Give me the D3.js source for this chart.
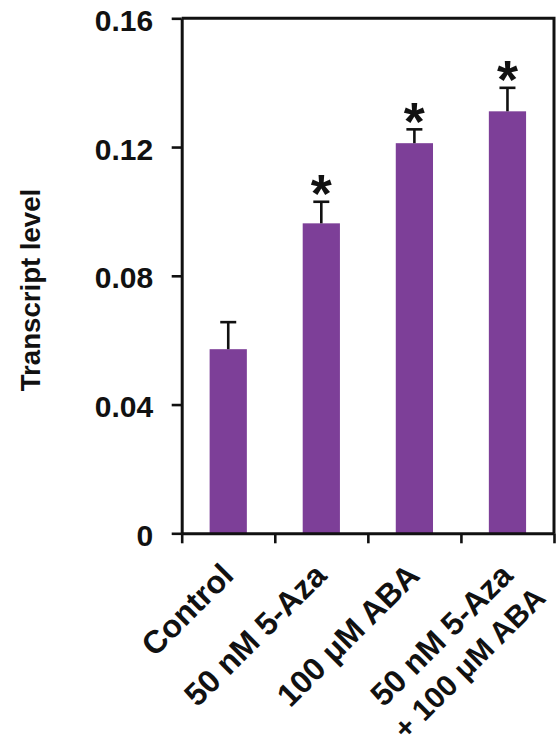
<!DOCTYPE html>
<html>
<head>
<meta charset="utf-8">
<script src="https://cdn.jsdelivr.net/npm/d3@7/dist/d3.min.js"></script>
<style>
  html, body { margin: 0; padding: 0; background: #fff; }
  svg { display: block; }
  text { font-family: "Liberation Sans", Arial, Helvetica, sans-serif; font-weight: bold; fill: #111; }
</style>
</head>
<body>
<svg id="chart" width="560" height="746"></svg>
<script>
// ---- Data ----
const categories = ["Control", "50 nM 5-Aza", "100 μM ABA", "50 nM 5-Aza + 100 μM ABA"];
const labelLines = [["Control"], ["50 nM 5-Aza"], ["100 μM ABA"], ["50 nM 5-Aza", "+ 100 μM ABA"]];
const values = [0.0572, 0.0963, 0.1212, 0.1311];
const errors = [0.0084, 0.0067, 0.0043, 0.0073];
const significant = [false, true, true, true];
const yTicks = [0, 0.04, 0.08, 0.12, 0.16];
const yLabel = "Transcript level";

// ---- Layout ----
const W = 560, H = 746;
const margin = { top: 18.3, right: 6, bottom: 212.7, left: 181.7 };
const innerW = W - margin.left - margin.right;
const innerH = H - margin.top - margin.bottom;
const barColor = "#7d3f98";

const svg = d3.select("#chart");
const g = svg.append("g").attr("transform", `translate(${margin.left},${margin.top})`);

const x = d3.scaleBand().domain(categories).range([0, innerW]).paddingInner(0.6).paddingOuter(0.3);
const xEdges = d3.scaleLinear().domain([0, categories.length]).range([0, innerW]);
const y = d3.scaleLinear().domain([0, 0.16]).range([innerH, 0]);

const rows = categories.map((c, i) => ({ c, v: values[i], e: errors[i], sig: significant[i] }));

// frame (top and right)
g.append("path")
  .attr("d", `M0,${y(0.16)}H${innerW}V${y(0)}`)
  .attr("fill", "none").attr("stroke", "#111").attr("stroke-width", 3);

// bars
g.selectAll("rect.bar").data(rows).join("rect")
  .attr("class", "bar")
  .attr("x", d => x(d.c))
  .attr("y", d => y(d.v))
  .attr("width", x.bandwidth())
  .attr("height", d => y(0) - y(d.v))
  .attr("fill", barColor);

// error bars
const capW = 16;
const cxOf = d => x(d.c) + x.bandwidth() / 2;
const eg = g.selectAll("g.err").data(rows).join("g").attr("class", "err");
eg.append("line")
  .attr("x1", cxOf).attr("x2", cxOf)
  .attr("y1", d => y(d.v))
  .attr("y2", d => y(d.v + d.e))
  .attr("stroke", "#111").attr("stroke-width", 2.6);
eg.append("line")
  .attr("x1", d => cxOf(d) - capW / 2)
  .attr("x2", d => cxOf(d) + capW / 2)
  .attr("y1", d => y(d.v + d.e))
  .attr("y2", d => y(d.v + d.e))
  .attr("stroke", "#111").attr("stroke-width", 2.6);

// significance stars
const starSize = 54;
g.selectAll("text.star").data(rows.filter(d => d.sig)).join("text")
  .attr("class", "star")
  .attr("x", cxOf)
  .attr("y", d => y(d.v + d.e) - 20.5 + 0.57 * starSize)
  .attr("text-anchor", "middle")
  .style("font-size", starSize + "px")
  .text("*");

// y axis
const yAxis = g.append("g")
  .call(d3.axisLeft(y).tickValues(yTicks)
    .tickFormat(d => d === 0 ? "0" : d.toFixed(2))
    .tickSize(10).tickSizeOuter(0).tickPadding(18.5));
yAxis.select(".domain").attr("stroke", "#111").attr("stroke-width", 3);
yAxis.selectAll(".tick line").attr("stroke", "#111").attr("stroke-width", 2.6);
yAxis.selectAll(".tick text")
  .attr("dy", "0.4em")
  .style("font-size", "30px")
  .style("font-family", "'Liberation Sans', Arial, sans-serif")
  .style("font-weight", "bold")
  .attr("fill", "#111");

// x axis (ticks at category boundaries)
const xAxis = g.append("g").attr("transform", `translate(0,${innerH})`)
  .call(d3.axisBottom(xEdges).tickValues(d3.range(categories.length + 1))
    .tickFormat("").tickSize(10).tickSizeOuter(0));
xAxis.select(".domain").attr("stroke", "#111").attr("stroke-width", 3);
xAxis.selectAll(".tick line").attr("stroke", "#111").attr("stroke-width", 2.6);

// category labels, rotated
const labelFont = 32;
const secondFont = 30;
const lineGap = 39;
categories.forEach((c, i) => {
  const cx = x(c) + x.bandwidth() / 2;
  const lg = g.append("g")
    .attr("transform", `translate(${cx + 7},${innerH + 44}) rotate(-45)`);
  const lines = labelLines[i];
  const first = lg.append("text")
    .attr("x", 0).attr("y", 0)
    .attr("text-anchor", "end")
    .style("font-size", labelFont + "px")
    .text(lines[0]);
  const L1 = first.node().getComputedTextLength();
  for (let k = 1; k < lines.length; k++) {
    lg.append("text")
      .attr("x", -L1 / 2).attr("y", k * lineGap)
      .attr("text-anchor", "middle")
      .style("font-size", secondFont + "px")
      .text(lines[k]);
  }
});

// y axis title
svg.append("text")
  .attr("transform", `translate(40,290) rotate(-90)`)
  .attr("text-anchor", "middle")
  .style("font-size", "27.6px")
  .text(yLabel);
</script>
</body>
</html>
